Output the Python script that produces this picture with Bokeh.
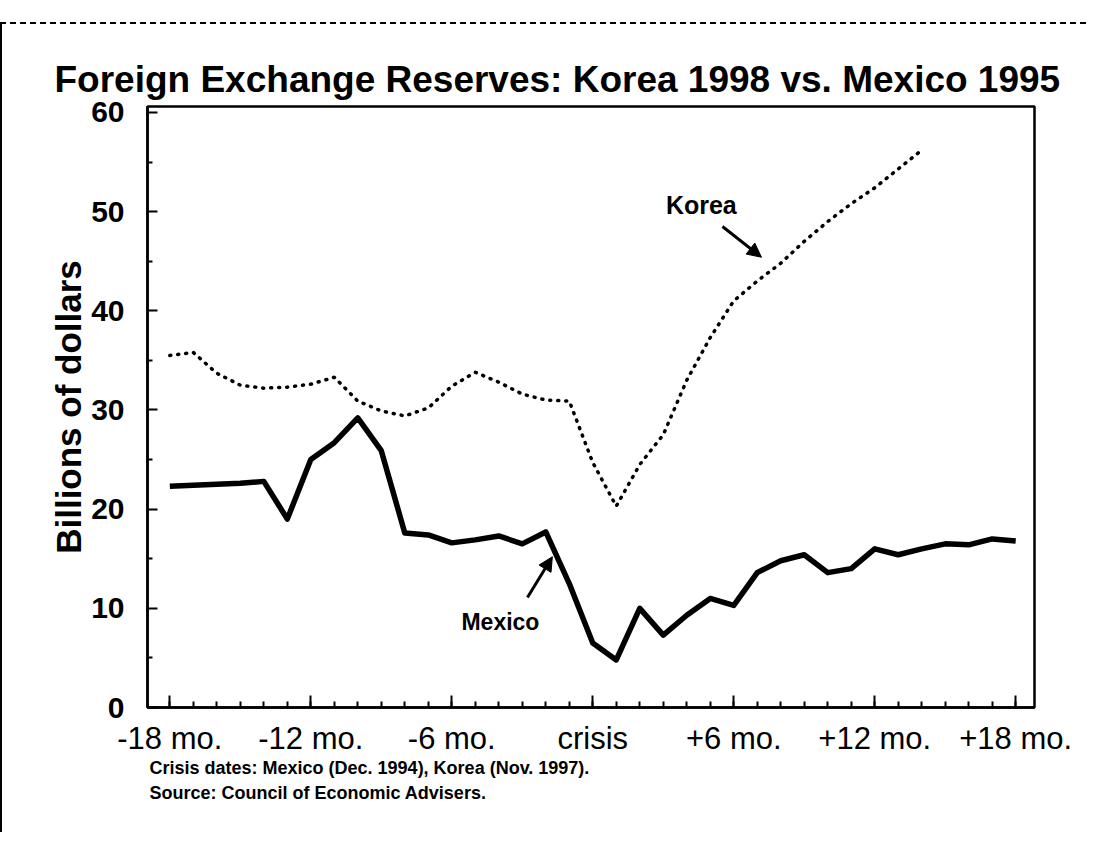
from bokeh.plotting import figure
from bokeh.models import Range1d, FixedTicker, Label, Arrow, NormalHead, ColumnDataSource, Title
from bokeh.embed import file_html
from bokeh.resources import INLINE

# ---- data ----
months_mexico = list(range(-18, 19))
mexico = [22.3, 22.4, 22.5, 22.6, 22.8, 19.0, 25.0, 26.7, 29.2, 25.9,
          17.6, 17.4, 16.6, 16.9, 17.3, 16.5, 17.7, 12.5, 6.5, 4.8,
          10.0, 7.3, 9.3, 11.0, 10.3, 13.6, 14.8, 15.4, 13.6, 14.0,
          16.0, 15.4, 16.0, 16.5, 16.4, 17.0, 16.8]

months_korea = list(range(-18, 15))
korea = [35.5, 35.8, 33.7, 32.5, 32.2, 32.3, 32.6, 33.3, 30.9, 29.9,
         29.4, 30.2, 32.4, 33.8, 32.8, 31.6, 31.0, 30.9, 24.7, 20.3,
         24.5, 27.5, 33.0, 37.3, 41.0, 43.0, 44.8, 47.0, 49.0, 50.8,
         52.4, 54.3, 56.2]

x_ticks = [-18, -12, -6, 0, 6, 12, 18]
x_tick_labels = ["-18 mo.", "-12 mo.", "-6 mo.", "crisis", "+6 mo.", "+12 mo.", "+18 mo."]
y_ticks = [0, 10, 20, 30, 40, 50, 60]

FONT = "Liberation Sans"

p = figure(width=1086, height=810, output_backend="svg", toolbar_location=None,
           x_range=Range1d(-18.95, 18.8), y_range=Range1d(0, 60.6),
           min_border_left=145, min_border_right=54, min_border_top=82, min_border_bottom=127)
p.margin = (22, 0, 0, 0)
p.styles = {"border-left": "2px solid black", "border-top": "2px dashed black"}
p.grid.visible = False
p.outline_line_color = "black"
p.outline_line_width = 2.5
p.outline_line_alpha = 1.0
p.background_fill_color = "white"
p.border_fill_color = "white"

src_m = ColumnDataSource(dict(x=months_mexico, y=mexico))
src_k = ColumnDataSource(dict(x=months_korea, y=korea))
p.line("x", "y", source=src_m, line_color="black", line_width=5.5, line_join="round")
p.line("x", "y", source=src_k, line_color="black", line_width=3.5, line_dash="1 7", line_cap="round")

# axes
xa = p.xaxis[0]
xa.ticker = FixedTicker(ticks=x_ticks, minor_ticks=list(range(-18, 19)))
xa.major_label_overrides = {t: l for t, l in zip(x_ticks, x_tick_labels)}
xa.major_tick_in = 12
xa.major_tick_out = 0
xa.minor_tick_in = 6
xa.minor_tick_out = 0
xa.axis_line_width = 2.5
xa.major_tick_line_width = 2
xa.minor_tick_line_width = 2
xa.major_label_text_font = FONT
xa.major_label_text_font_size = "31px"
xa.major_label_text_color = "black"
xa.major_label_standoff = 13

ya = p.yaxis[0]
ya.ticker = FixedTicker(ticks=y_ticks, minor_ticks=[5, 15, 25, 35, 45, 55])
ya.major_tick_in = 10
ya.major_tick_out = 0
ya.minor_tick_in = 5
ya.minor_tick_out = 0
ya.axis_line_width = 2.5
ya.major_tick_line_width = 2
ya.minor_tick_line_width = 2
ya.major_label_text_font = FONT
ya.major_label_text_font_size = "30px"
ya.major_label_text_font_style = "bold"
ya.major_label_text_color = "black"
ya.major_label_standoff = 23
ya.axis_label = "Billions of dollars"
ya.axis_label_text_font = FONT
ya.axis_label_text_font_size = "35px"
ya.axis_label_text_font_style = "bold"
ya.axis_label_text_color = "black"
ya.axis_label_standoff = 0

# title
p.title.text = "Foreign Exchange Reserves: Korea 1998 vs. Mexico 1995"
p.title.text_font = FONT
p.title.text_font_size = "37px"
p.title.text_font_style = "bold"
p.title.text_color = "black"
p.title.align = "left"
p.title.offset = -93
p.title.standoff = 14

# footnotes
note1 = Title(text="Crisis dates: Mexico (Dec. 1994), Korea (Nov. 1997).", text_font=FONT,
              text_font_size="18px", text_font_style="bold", text_color="black",
              align="left", offset=2, standoff=-6)
note2 = Title(text="Source: Council of Economic Advisers.", text_font=FONT,
              text_font_size="18px", text_font_style="bold", text_color="black",
              align="left", offset=2, standoff=13)
p.add_layout(note1, "below")
p.add_layout(note2, "below")

# series annotations
p.add_layout(Label(x=4.62, y=50.7, text="Korea", text_font=FONT, text_font_size="25px",
                   text_font_style="bold", text_align="center", text_baseline="middle", text_color="black"))
p.add_layout(Arrow(x_start=5.52, y_start=48.5, x_end=7.18, y_end=45.4, line_width=3, line_color="black",
                   end=NormalHead(size=14, fill_color="black", line_color="black")))
p.add_layout(Label(x=-3.93, y=8.67, text="Mexico", text_font=FONT, text_font_size="23px",
                   text_font_style="bold", text_align="center", text_baseline="middle", text_color="black"))
p.add_layout(Arrow(x_start=-2.78, y_start=11.1, x_end=-1.72, y_end=15.2, line_width=3, line_color="black",
                   end=NormalHead(size=14, fill_color="black", line_color="black")))

open("out.html", "w").write(file_html(p, INLINE))
